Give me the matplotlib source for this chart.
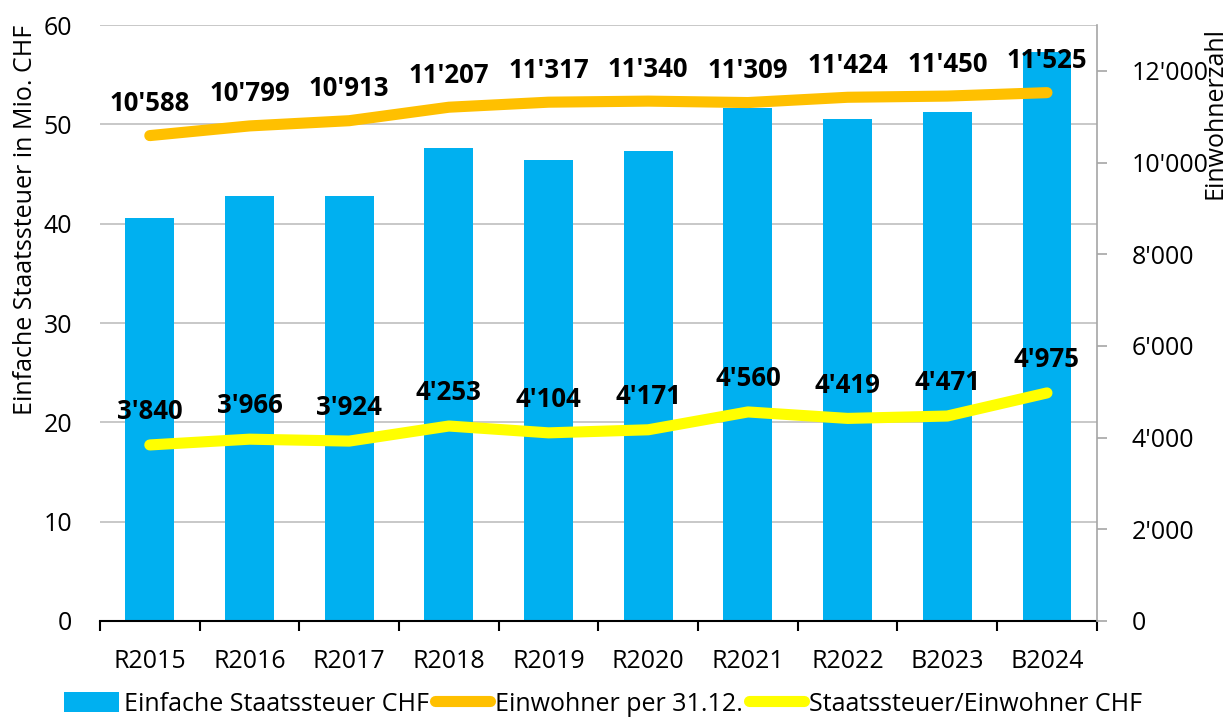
import matplotlib.pyplot as plt
import numpy as np

plt.rcParams['font.family'] = ['Open Sans', 'DejaVu Sans']

# Daten
jahre = ["R2015", "R2016", "R2017", "R2018", "R2019", "R2020",
         "R2021", "R2022", "B2023", "B2024"]
steuer_mio = [40.6, 42.8, 42.8, 47.6, 46.4, 47.3, 51.6, 50.5, 51.2, 57.3]
einwohner = [10588, 10799, 10913, 11207, 11317, 11340, 11309, 11424, 11450, 11525]
steuer_pro_kopf = [3840, 3966, 3924, 4253, 4104, 4171, 4560, 4419, 4471, 4975]

BLAU = "#00B0F0"
ORANGE = "#FFC000"
GELB = "#FFFF00"
FS = 18


def fmt(v):
    return f"{v:,}".replace(",", "'")


fig = plt.figure(figsize=(12.31, 7.17), dpi=100)
ax = fig.add_axes([0.0812, 0.1339, 0.8098, 0.8312])
ax2 = ax.twinx()

x = np.arange(len(jahre))

# Balken (linke Achse)
bars = ax.bar(x, steuer_mio, width=0.49, color=BLAU, zorder=2,
              label="Einfache Staatssteuer CHF")
ax.set_ylim(0, 60)
ax.set_xlim(-0.5, len(jahre) - 0.5)
ax.set_yticks(range(0, 61, 10))
ax.yaxis.grid(True, color="#bfbfbf", linewidth=1.2, zorder=0)
ax.set_axisbelow(True)
ax.tick_params(axis="y", length=0, labelsize=FS, pad=20)
ax.set_ylabel("Einfache Staatssteuer in Mio. CHF", fontsize=FS, labelpad=4, loc="top")

ax.set_xticks(x)
ax.set_xticklabels(jahre, fontsize=FS)
ax.set_xticks(np.arange(-0.5, len(jahre)), minor=True)
ax.tick_params(axis="x", which="major", length=0, pad=20)
ax.tick_params(axis="x", which="minor", length=7, width=1.5, direction="out")

for s in ["left", "top", "right"]:
    ax.spines[s].set_visible(False)
ax.spines["bottom"].set_linewidth(1.5)
ax.spines["bottom"].set_zorder(5)

# Linien (rechte Achse)
l1, = ax2.plot(x, einwohner, color=ORANGE, linewidth=8,
               solid_capstyle="round", label="Einwohner per 31.12.", zorder=3)
l2, = ax2.plot(x, steuer_pro_kopf, color=GELB, linewidth=8,
               solid_capstyle="round", label="Staatssteuer/Einwohner CHF", zorder=3)
ax2.set_ylim(0, 13000)
ax2.set_yticks(range(0, 12001, 2000))
ax2.set_yticklabels([fmt(v) for v in range(0, 12001, 2000)], fontsize=FS)
ax2.tick_params(axis="y", length=7, width=1.2, color="#a6a6a6", direction="out", pad=18)
for s in ["left", "top", "bottom"]:
    ax2.spines[s].set_visible(False)
ax2.spines["right"].set_color("#a6a6a6")
ax2.spines["right"].set_linewidth(1.2)

# rechte Achsenbeschriftung oben ausgerichtet
fig.text(1215 / 1231, 1 - 27 / 717, "Einwohnerzahl", rotation=90,
         ha="center", va="top", fontsize=FS)

for xi, v in zip(x, einwohner):
    ax2.annotate(fmt(v), (xi, v), xytext=(0, 23), textcoords="offset points",
                 ha="center", va="center", fontsize=18.5, fontweight="bold", zorder=6)
for xi, v in zip(x, steuer_pro_kopf):
    ax2.annotate(fmt(v), (xi, v), xytext=(0, 24), textcoords="offset points",
                 ha="center", va="center", fontsize=18.5, fontweight="bold", zorder=6)

fig.legend([bars, l1, l2],
           ["Einfache Staatssteuer CHF", "Einwohner per 31.12.", "Staatssteuer/Einwohner CHF"],
           loc="center", bbox_to_anchor=(0.49, 0.018), ncol=3, frameon=False,
           fontsize=FS, handlelength=2.2, handleheight=0.9, handletextpad=0.2,
           columnspacing=0.25)

plt.savefig("out.png", dpi=100)
